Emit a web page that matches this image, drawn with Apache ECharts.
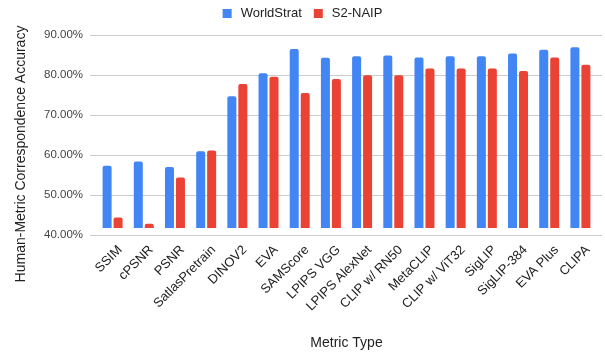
<!DOCTYPE html>
<html><head><meta charset="utf-8">
<script src="https://cdn.jsdelivr.net/npm/echarts@6/dist/echarts.min.js"></script>
<style>html,body{margin:0;padding:0;background:#fff}#c{width:605px;height:355px}</style>
</head><body><div id="c"></div>
<script>
const categories = ['SSIM','cPSNR','PSNR','SatlasPretrain','DINOV2','EVA','SAMScore','LPIPS VGG','LPIPS AlexNet','CLIP w/ RN50','MetaCLIP','CLIP w/ ViT32','SigLIP','SigLIP-384','EVA Plus','CLIPA'];
const worldStrat = [56.1,57.2,55.8,59.9,74.1,80.1,86.4,84.1,84.5,84.7,84.2,84.5,84.5,85.2,86.2,86.8];
const s2naip = [42.7,41.1,53.1,60.1,77.3,79.2,75.0,78.6,79.6,79.6,81.3,81.3,81.3,80.7,84.2,82.3];
const yTicks = {min:40, max:90, interval:10};

const font = 'Liberation Sans, Arial, sans-serif';
const chart = echarts.init(document.getElementById('c'), null, {renderer:'canvas'});
chart.setOption({
  animation:false,
  textStyle:{fontFamily:font},
  legend:{top:2, left:'center', itemWidth:9, itemHeight:9, itemGap:12, icon:'rect',
    textStyle:{fontSize:13, color:'#222', fontFamily:font, padding:[0,0,0,4]},
    data:['WorldStrat','S2-NAIP']},
  grid:[
    {left:90, right:3, top:35, bottom:120},
    {left:97, right:9, top:35, bottom:120}
  ],
  xAxis:[
    {gridIndex:0, type:'category', data:categories, show:false},
    {gridIndex:1, type:'category', data:categories,
     axisLine:{show:false}, axisTick:{show:false},
     axisLabel:{rotate:45, interval:0, fontSize:13, color:'#222', margin:4,
       verticalAlign:'top', padding:[10,6,0,0], fontFamily:font},
     name:'Metric Type', nameLocation:'middle', nameGap:108,
     nameTextStyle:{fontSize:14, color:'#222', fontFamily:font}}
  ],
  yAxis:[
    {gridIndex:0, type:'value', min:yTicks.min, max:yTicks.max, interval:yTicks.interval,
     axisLine:{show:false}, axisTick:{show:false},
     splitLine:{lineStyle:{color:'#cccccc', width:1}},
     axisLabel:{fontSize:11.5, color:'#444', margin:7, fontFamily:font,
       formatter:v=>v.toFixed(2)+'%'},
     name:'Human-Metric Correspondence Accuracy', nameLocation:'middle', nameGap:62,
     nameTextStyle:{fontSize:14, color:'#222', fontFamily:font, padding:[0,38,0,0]}},
    {gridIndex:1, type:'value', min:yTicks.min, max:yTicks.max, interval:yTicks.interval, show:false}
  ],
  series:[
    {name:'WorldStrat', type:'bar', xAxisIndex:1, yAxisIndex:1, data:worldStrat,
     barWidth:9, barGap:'22%', itemStyle:{color:'#4285F4', borderRadius:[2,2,0,0]}},
    {name:'S2-NAIP', type:'bar', xAxisIndex:1, yAxisIndex:1, data:s2naip,
     barWidth:9, barGap:'22%', itemStyle:{color:'#EA4335', borderRadius:[2,2,0,0]}}
  ]
});
</script></body></html>
